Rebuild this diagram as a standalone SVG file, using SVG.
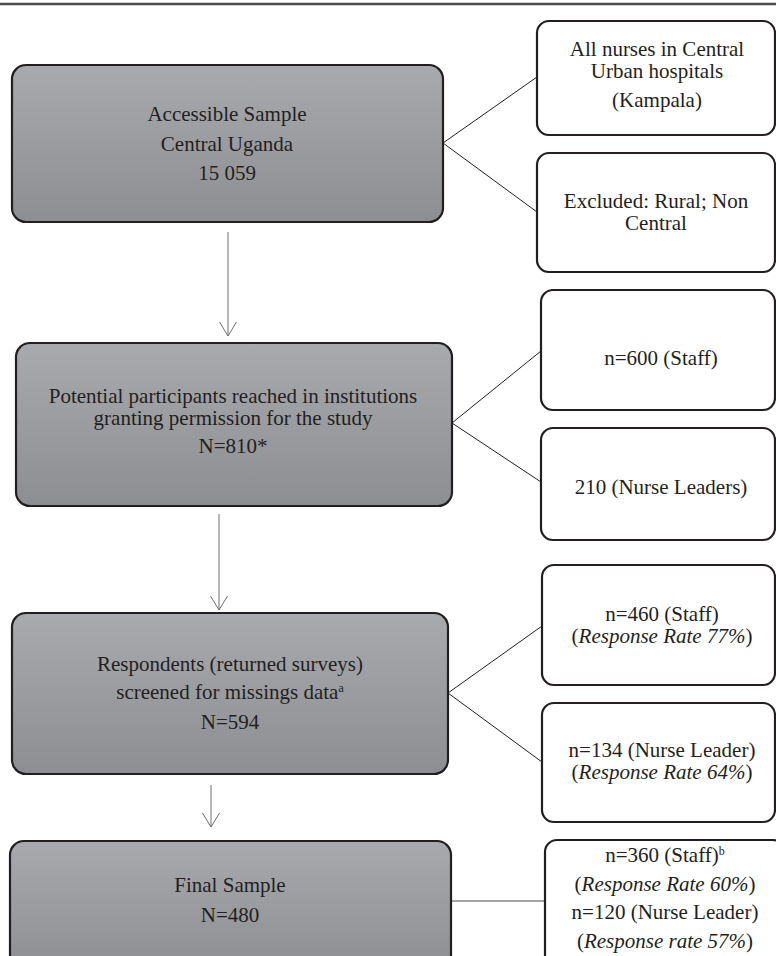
<svg xmlns="http://www.w3.org/2000/svg" width="776" height="956" viewBox="0 0 776 956" font-family="Liberation Serif, Tinos, DejaVu Serif, serif">
<style>
text{font-family:'Liberation Serif','Tinos','DejaVu Serif',serif;font-size:21px;fill:#231f20;text-anchor:middle}
.g{fill:url(#grad);stroke:#231f20;stroke-width:2.2}
.w{fill:#fff;stroke:#231f20;stroke-width:2.2}
.c{stroke:#231f20;stroke-width:1;fill:none}
.a{stroke:#6d6e71;stroke-width:1;fill:none}
.i{font-style:italic}
.sup{font-size:12px}
</style>
<defs>
<linearGradient id="grad" x1="0" y1="0" x2="0" y2="1">
<stop offset="0" stop-color="#a9aaae"/>
<stop offset="1" stop-color="#8d8e92"/>
</linearGradient>
<marker id="arr" markerUnits="userSpaceOnUse" markerWidth="20" markerHeight="22" viewBox="-16 -11 18 22" refX="0" refY="0" orient="auto">
<path d="M-14,-8.5 L0,0 L-14,8.5" fill="none" stroke="#6d6e71" stroke-width="1"/>
</marker>
</defs>
<line x1="0" y1="4" x2="776" y2="4" stroke="#4d4d4f" stroke-width="2.5"/>
<g id="connectors">
<polyline class="c" points="537,77 443,143 537,212"/>
<polyline class="c" points="541,351 452,423 541,482"/>
<polyline class="c" points="542,626 448,693 542,762"/>
<line x1="451" y1="901" x2="545" y2="901" stroke="#858689" stroke-width="1.6"/>
<line class="a" x1="228" y1="232" x2="228" y2="336" marker-end="url(#arr)"/>
<line class="a" x1="219" y1="514" x2="219" y2="610" marker-end="url(#arr)"/>
<line class="a" x1="211" y1="785" x2="211" y2="827" marker-end="url(#arr)"/>
</g>
<g id="n1">
<rect class="g" x="12" y="65" width="431" height="157" rx="14"/>
<text x="227" y="121">Accessible Sample</text>
<text x="227" y="151">Central Uganda</text>
<text x="227" y="180">15 059</text>
</g>
<g id="nA">
<rect class="w" x="537" y="21" width="238" height="114" rx="12"/>
<text x="657" y="56">All nurses in Central</text>
<text x="657" y="78">Urban hospitals</text>
<text x="657" y="107">(Kampala)</text>
</g>
<g id="nB">
<rect class="w" x="537" y="153" width="238" height="119" rx="12"/>
<text x="656" y="208">Excluded: Rural; Non</text>
<text x="656" y="230">Central</text>
</g>
<g id="n2">
<rect class="g" x="16" y="343" width="436" height="163" rx="14"/>
<text x="233" y="403">Potential participants reached in institutions</text>
<text x="233" y="425">granting permission for the study</text>
<text x="233" y="453">N=810*</text>
</g>
<g id="nC">
<rect class="w" x="541" y="290" width="234" height="120" rx="12"/>
<text x="661" y="365">n=600 (Staff)</text>
</g>
<g id="nD">
<rect class="w" x="541" y="428" width="234" height="112" rx="12"/>
<text x="661" y="494">210 (Nurse Leaders)</text>
</g>
<g id="n3">
<rect class="g" x="12" y="613" width="436" height="161" rx="14"/>
<text x="230" y="671">Respondents (returned surveys)</text>
<text x="230" y="699">screened for missings data<tspan class="sup" dy="-7">a</tspan></text>
<text x="230" y="729">N=594</text>
</g>
<g id="nE">
<rect class="w" x="542" y="565" width="233" height="120" rx="12"/>
<text x="662" y="621">n=460 (Staff)</text>
<text x="662" y="643">(<tspan class="i">Response Rate 77%</tspan>)</text>
</g>
<g id="nF">
<rect class="w" x="542" y="703" width="233" height="119" rx="12"/>
<text x="662" y="757">n=134 (Nurse Leader)</text>
<text x="662" y="779">(<tspan class="i">Response Rate 64%</tspan>)</text>
</g>
<g id="n4">
<rect class="g" x="10" y="841" width="441" height="130" rx="14"/>
<text x="230" y="892">Final Sample</text>
<text x="230" y="922">N=480</text>
</g>
<g id="nG">
<rect class="w" x="545" y="840" width="240" height="130" rx="12"/>
<text x="665" y="862">n=360 (Staff)<tspan class="sup" dy="-7">b</tspan></text>
<text x="665" y="891">(<tspan class="i">Response Rate 60%</tspan>)</text>
<text x="665" y="919">n=120 (Nurse Leader)</text>
<text x="665" y="948">(<tspan class="i">Response rate 57%</tspan>)</text>
</g>
</svg>
